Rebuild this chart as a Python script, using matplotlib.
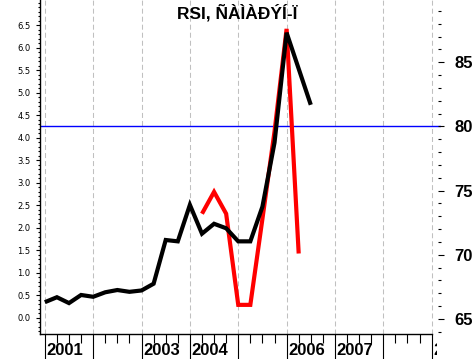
import numpy as np
import pandas as pd
import matplotlib
matplotlib.use("Agg")
import matplotlib.pyplot as plt
from matplotlib.ticker import FixedLocator, MultipleLocator
from matplotlib.patches import Rectangle

# quarterly data
price_quarters = pd.period_range("2001Q1", "2006Q3", freq="Q")
price = [0.35, 0.46, 0.33, 0.51, 0.47, 0.57, 0.62, 0.58, 0.61, 0.76,
         1.73, 1.70, 2.51, 1.87, 2.09, 1.99, 1.70, 1.70, 2.47, 3.89,
         6.33, 5.53, 4.73]

rsi_quarters = pd.period_range("2004Q2", "2006Q2", freq="Q")
rsi = [73.2, 74.9, 73.2, 66.1, 66.1, 72.8, 79.6, 87.6, 70.1]

rsi_level = 80
years = list(range(2001, 2010))
year_labels = {2001: "2001", 2003: "2003", 2004: "2004", 2006: "2006",
               2007: "2007", 2009: "2"}
left_ticks = [0.0, 0.5, 1.0, 1.5, 2.0, 2.5, 3.0, 3.5, 4.0, 4.5, 5.0, 5.5, 6.0, 6.5]
right_ticks = [65, 70, 75, 80, 85]
title = "RSI, ÑÀÌÀÐÝÍ-Ï"


def to_x(periods):
    return np.array([p.year + (p.quarter - 1) / 4 for p in periods])


W, H = 476, 359
fig = plt.figure(figsize=(W / 100, H / 100), dpi=100)
fig.patch.set_facecolor("white")

ax = fig.add_axes([39.5 / W, 25 / H, (441 - 39.5) / W, 334 / H])
ax2 = ax.twinx()
ax.set_zorder(ax2.get_zorder() + 1)
ax.patch.set_visible(False)

ax.set_xlim(2000.89, 2009.193)
ax.set_ylim(-0.356, 7.056)
ax2.set_ylim(63.83, 89.85)

# grid + level line on the lower axes
for y in years:
    ax2.axvline(y, color="#c0c0c0", lw=0.75, ls=(0, (4.8, 2.9)), zorder=0)
ax2.axhline(rsi_level, color="#0000ff", lw=1.0, zorder=1)

ax2.plot(to_x(rsi_quarters), rsi, color="#ff0000", lw=3,
         solid_joinstyle="miter", solid_capstyle="butt", zorder=2)
ax.plot(to_x(price_quarters), price, color="black", lw=3,
        solid_joinstyle="miter", solid_capstyle="butt", zorder=3)

# spines
for s in ["top", "right"]:
    ax.spines[s].set_visible(False)
for s in ["top", "right", "left", "bottom"]:
    ax2.spines[s].set_visible(False)
ax.spines["bottom"].set_bounds(2000.89, 2009)
ax.spines["left"].set_linewidth(1)
ax.spines["bottom"].set_linewidth(1)

# left axis
ax.yaxis.set_major_locator(FixedLocator(left_ticks))
ax.yaxis.set_minor_locator(MultipleLocator(0.1))
ax.set_yticklabels([f"{v:.1f}" for v in left_ticks])
ax.tick_params(axis="y", which="major", direction="out", length=2.9, width=0.8,
               pad=3.6, labelsize=6)
ax.tick_params(axis="y", which="minor", direction="out", length=1.5, width=0.8)

# bottom axis
ax.xaxis.set_major_locator(FixedLocator(years))
ax.xaxis.set_minor_locator(FixedLocator([y + q / 4 for y in years[:-1] for q in (1, 2, 3)]))
ax.tick_params(axis="x", which="major", direction="out", length=18, width=0.8,
               labelbottom=False)
ax.tick_params(axis="x", which="minor", direction="out", length=6.5, width=0.8)

clip = Rectangle((0, 0), 437 / W, 1, transform=fig.transFigure)
for y, lab in year_labels.items():
    t = ax.text(y + 1.5 / 48.36, -0.05, lab, transform=ax.get_xaxis_transform(),
                ha="left", va="center", fontsize=12, fontweight="bold",
                family="Liberation Sans", clip_on=True)
    t.set_clip_path(clip)

# right axis
ax2.yaxis.set_major_locator(FixedLocator(right_ticks))
ax2.yaxis.set_minor_locator(MultipleLocator(1))
ax2.tick_params(axis="y", which="major", direction="inout", length=4.5, width=0.8,
                pad=7.2, labelsize=12)
ax2.tick_params(axis="y", which="minor", direction="in", length=2.2, width=0.8)
for lab in ax2.get_yticklabels():
    lab.set_fontweight("bold")
    lab.set_family("Liberation Sans")
ax2.tick_params(axis="x", which="both", bottom=False, labelbottom=False)

fig.text(237.5 / W, 1 - 13 / H, title, ha="center", va="center",
         fontsize=12.5, fontweight="bold", family="Liberation Sans")

fig.savefig("out.png", dpi=100)
